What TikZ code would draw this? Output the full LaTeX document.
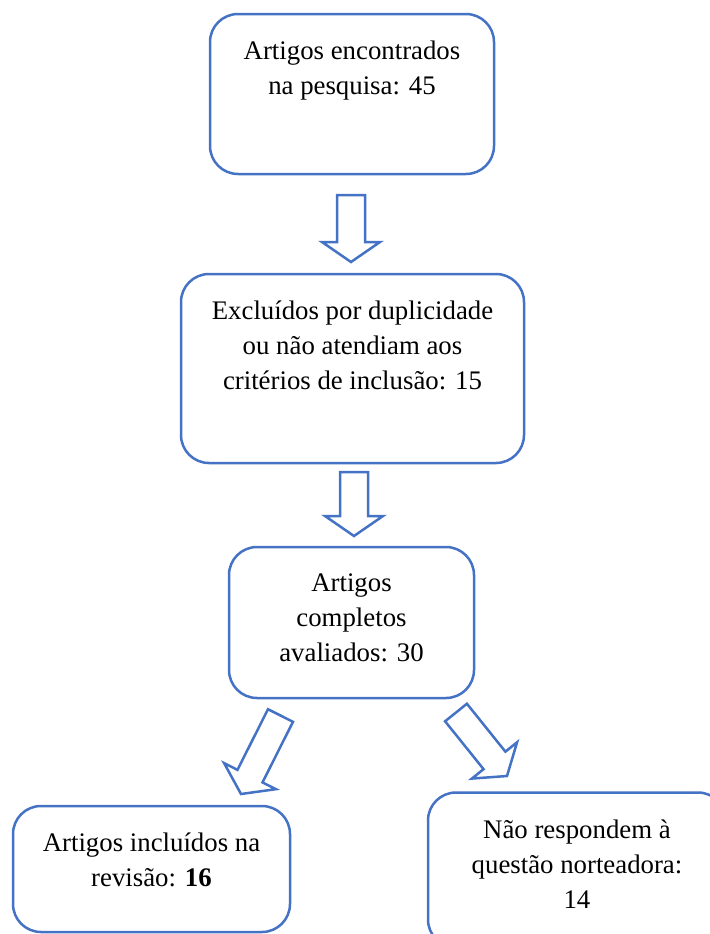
\documentclass[tikz,border=0pt]{standalone}
\usepackage{fontspec}
\setmainfont{Liberation Serif}
\usetikzlibrary{calc,positioning}
\definecolor{boxblue}{RGB}{68,114,196}
\tikzset{box/.style={rectangle,draw=boxblue,line width=1.25pt,rounded corners=14pt,inner sep=0pt}}
\tikzset{txt/.style={align=center,inner sep=0pt,anchor=north,font=\fontsize{13.4}{17.5}\selectfont}}
\tikzset{barrow/.style={draw=boxblue,line width=1.25pt,line join=miter}}
% block arrow from #1 to #2
\newcommand{\blockarr}[2]{%
  \coordinate (hb) at ($(#2)!10pt!(#1)$);
  \draw[barrow] ($(#1)!7pt!90:(#2)$) -- ($(hb)!7pt!-90:(#1)$) -- ($(hb)!14.5pt!-90:(#1)$)
    -- (#2) -- ($(hb)!14.5pt!90:(#1)$) -- ($(hb)!7pt!90:(#1)$) -- ($(#1)!7pt!-90:(#2)$) -- cycle;}

\begin{document}
\begin{tikzpicture}[x=0.5pt,y=-0.5pt]
  \useasboundingbox (0,0) rectangle (710,934);
  \clip (0,0) rectangle (710,934);
      \node[box,minimum width=142pt,minimum height=80pt] (found) at (352,94) {};
      \node[box,minimum width=171.5pt,minimum height=94.5pt] (excl) at (352.5,368.5) {};
      \node[box,minimum width=122.5pt,minimum height=75.5pt] (full) at (351.5,622.5) {};
      \node[box,minimum width=138.5pt,minimum height=63pt] (incl) at (151.5,869) {};
      \node[box,minimum width=149pt,minimum height=77.5pt] (notq) at (577,870) {};
      \node[txt,below=14pt of found.north] (t1) {Artigos encontrados\\na pesquisa: 45};
      \node[txt,below=14pt of excl.north] (t2) {Excluídos por duplicidade\\ou não atendiam aos\\critérios de inclusão: 15};
      \node[txt,below=14pt of full.north] (t3) {Artigos\\completos\\avaliados: 30};
      \node[txt,below=14pt of incl.north] (t4) {Artigos incluídos na\\revisão: \textbf{16}};
      \node[txt,below=14pt of notq.north] (t5) {Não respondem à\\questão norteadora:\\14};
      \coordinate (a1) at (351,195); \coordinate (b1) at (351,262);
      \coordinate (a2) at (354,472); \coordinate (b2) at (354,536);
      \coordinate (a3) at (280.5,715.5); \coordinate (b3) at (241,794);
      \coordinate (a4) at (456,712.5); \coordinate (b4) at (507,776);
        \blockarr{a1}{b1}
        \blockarr{a2}{b2}
        \blockarr{a3}{b3}
        \blockarr{a4}{b4}
    \end{tikzpicture}
\end{document}
